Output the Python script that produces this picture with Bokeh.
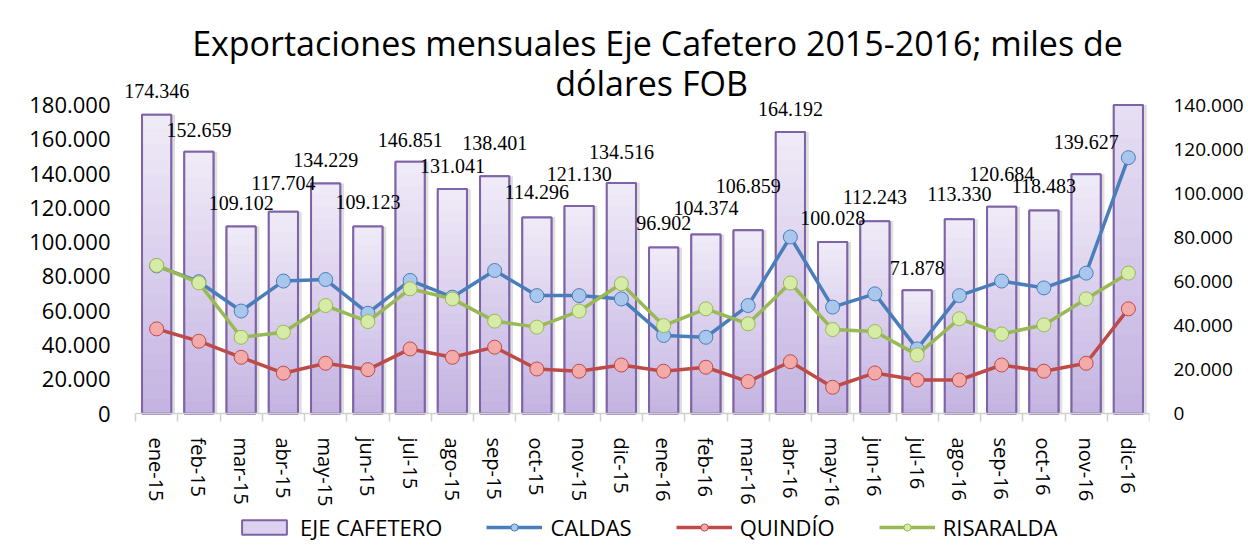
import numpy as np
from bokeh.plotting import figure
from bokeh.models import (Range1d, LinearAxis, FixedTicker, ColumnDataSource,
                          Label, Legend, LegendItem)
from bokeh.embed import file_html
from bokeh.resources import INLINE

months = ["ene-15", "feb-15", "mar-15", "abr-15", "may-15", "jun-15", "jul-15", "ago-15",
          "sep-15", "oct-15", "nov-15", "dic-15", "ene-16", "feb-16", "mar-16", "abr-16",
          "may-16", "jun-16", "jul-16", "ago-16", "sep-16", "oct-16", "nov-16", "dic-16"]
eje = [174346, 152659, 109102, 117704, 134229, 109123, 146851, 131041, 138401, 114296,
       121130, 134516, 96902, 104374, 106859, 164192, 100028, 112243, 71878, 113330,
       120684, 118483, 139627, 229000]
caldas = [67000, 59800, 46500, 60100, 60800, 45500, 60400, 52800, 64900, 53500, 53500, 52000,
          35400, 34600, 49000, 80100, 48300, 54300, 29300, 53500, 60100, 57000, 63700, 116100]
quindio = [38400, 32800, 25500, 18300, 22800, 19900, 29300, 25500, 30100, 20200, 19200, 22000,
           19200, 21000, 14500, 23500, 11900, 18400, 15200, 15200, 22000, 19200, 22800, 47500]
risaralda = [67200, 59300, 34600, 36900, 49000, 41700, 56600, 52000, 41900, 39200, 46500, 58900,
             39900, 47500, 40700, 59200, 38100, 37200, 26600, 43000, 36100, 40200, 52000, 63700]
left_ticks = list(range(0, 180001, 20000))
right_ticks = list(range(0, 140001, 20000))
title_lines = ["Exportaciones mensuales Eje Cafetero 2015-2016; miles de", "dólares FOB"]

# style: extra lift (px) of individual data labels, as placed in the original chart
label_lift = [1, -1, 1, 6, 0, 1, -1, 0, 10, 3, 9, 8, 1, 4, 21, 0, 1, 1, -1, 2, 10, 1, 9, 0]

LEFT_MAX = 180000
RIGHT_MAX = 140000

# layout (canvas pixels)
CANVAS_W, CANVAS_H = 1246, 558
FRAME_L = 122          # frame left edge (a little left of the first category)
CAT0 = 135             # left edge of the first category
CAT_PX = 42.25         # width of one category
AXIS_TOP_PX = 104.5    # where LEFT_MAX sits
AXIS_ZERO_PX = 413     # where 0 sits
TITLE_CX = [657, 651]
TITLE_CY = [42, 82]

n = len(months)
frame_w = int(round(CAT0 - FRAME_L + n * CAT_PX))
right_border = CANVAS_W - FRAME_L - frame_w
ppu = (AXIS_ZERO_PX - AXIS_TOP_PX) / LEFT_MAX
y_end = AXIS_ZERO_PX / ppu
y_start = -(CANVAS_H - AXIS_ZERO_PX) / ppu
r_scale = RIGHT_MAX / LEFT_MAX
x_start = -(CAT0 - FRAME_L) / CAT_PX

def fmt(v):
    return f"{v:,}".replace(",", ".")

def y_at(px):
    return (AXIS_ZERO_PX - px) / ppu

def x_at(px):
    return (px - CAT0) / CAT_PX

xs = np.arange(n) + 0.5

p = figure(frame_width=frame_w, frame_height=CANVAS_H, output_backend="svg",
           toolbar_location=None,
           x_range=Range1d(x_start, n), y_range=Range1d(y_start, y_end),
           min_border_left=FRAME_L, min_border_right=right_border,
           min_border_top=0, min_border_bottom=0,
           background_fill_color="white", border_fill_color="white")
p.title.visible = False
p.outline_line_color = None
p.grid.visible = False
p.extra_y_ranges = {"right": Range1d(y_start * r_scale, y_end * r_scale)}

# title
for txt, cx, cy in zip(title_lines, TITLE_CX, TITLE_CY):
    p.add_layout(Label(x=x_at(cx), y=y_at(cy), text=txt, text_align="center",
                       text_baseline="middle", text_font="Open Sans",
                       text_font_size="34px", text_color="#000000"))

# bars (the left axis ends at LEFT_MAX, taller bars are cut there)
bar_top = np.minimum(eje, LEFT_MAX)
bw = 0.69
shadow_src = ColumnDataSource(dict(x=xs + 0.09, top=bar_top))
p.vbar(x="x", top="top", width=bw, bottom=0, source=shadow_src,
       fill_color="#B8B8B8", fill_alpha=0.45, line_color=None)
base_src = ColumnDataSource(dict(x=xs, top=bar_top))
bar_base = p.vbar(x="x", top="top", width=bw, bottom=0, source=base_src,
                  fill_color="#DCD2EF", line_color="#7F63A8", line_width=2)

c_bot = np.array([0xC4, 0xB3, 0xE2])
c_top = np.array([0xF1, 0xEC, 0xF8])
N = 20
gx, gb, gt, gc = [], [], [], []
for i, v in enumerate(eje):
    for k in range(N):
        f = (k + 0.5) / N
        c = (c_bot + (c_top - c_bot) * f).astype(int)
        b0, b1 = v * k / N, min(v * (k + 1) / N, LEFT_MAX)
        if b0 >= LEFT_MAX:
            continue
        gx.append(xs[i]); gb.append(b0); gt.append(b1)
        gc.append("#%02x%02x%02x" % tuple(c))
grad_src = ColumnDataSource(dict(x=gx, bottom=gb, top=gt, color=gc))
p.vbar(x="x", top="top", bottom="bottom", width=bw, source=grad_src,
       fill_color="color", line_color="color", line_width=0.5)
p.vbar(x="x", top="top", width=bw, bottom=0, source=base_src,
       fill_alpha=0, line_color="#7F63A8", line_width=2)

# data labels (only those inside the axis range are visible in the chart)
for i, v in enumerate(eje):
    if v <= LEFT_MAX:
        p.add_layout(Label(x=xs[i], y=v, text=fmt(v), text_align="center",
                           text_baseline="bottom", y_offset=16 + label_lift[i],
                           text_font="Liberation Serif", text_font_size="20px",
                           text_color="#000000"))

# lines
series = [("CALDAS", caldas, "#4A7EBB", "#A9C6EC"),
          ("QUINDÍO", quindio, "#BE4B48", "#F3AAA8"),
          ("RISARALDA", risaralda, "#98B954", "#D6ECA6")]
items = [LegendItem(label="EJE CAFETERO", renderers=[bar_base])]
for name, vals, lc, fc in series:
    src = ColumnDataSource(dict(x=xs, y=vals))
    lr = p.line("x", "y", source=src, y_range_name="right", line_color=lc, line_width=3.5)
    sr = p.scatter("x", "y", source=src, y_range_name="right", marker="circle", size=14,
                   fill_color=fc, line_color=lc, line_width=1)
    items.append(LegendItem(label=name, renderers=[lr, sr]))

# x axis, pinned at value 0
xa = p.xaxis[0]
xa.fixed_location = 0
xa.bounds = (0, n)
xa.ticker = FixedTicker(ticks=list(xs), minor_ticks=list(range(n + 1)))
xa.major_label_overrides = {float(x): m for x, m in zip(xs, months)}
xa.major_label_orientation = "vertical"
xa.major_tick_line_color = None
xa.major_tick_out = 0
xa.major_tick_in = 0
xa.minor_tick_line_color = "#D0D0D0"
xa.minor_tick_line_width = 1.5
xa.minor_tick_in = 0
xa.minor_tick_out = 8
xa.axis_line_color = "#D0D0D0"
xa.axis_line_width = 1.5
xa.major_label_text_font = "Open Sans"
xa.major_label_text_font_size = "20px"
xa.major_label_text_color = "#000000"
xa.major_label_standoff = 16

# left axis
ya = p.yaxis[0]
ya.ticker = FixedTicker(ticks=left_ticks)
ya.major_label_overrides = {t: fmt(t) for t in left_ticks}
ya.axis_line_color = None
ya.major_tick_line_color = None
ya.major_tick_out = 0
ya.major_tick_in = 0
ya.minor_tick_line_color = None
ya.minor_tick_out = 0
ya.minor_tick_in = 0
ya.major_label_text_font = "Open Sans"
ya.major_label_text_font_size = "22px"
ya.major_label_text_color = "#000000"
ya.major_label_standoff = 12

# right axis
ra = LinearAxis(y_range_name="right", ticker=FixedTicker(ticks=right_ticks))
ra.major_label_overrides = {t: fmt(t) for t in right_ticks}
ra.axis_line_color = None
ra.major_tick_line_color = None
ra.major_tick_out = 0
ra.major_tick_in = 0
ra.minor_tick_line_color = None
ra.minor_tick_out = 0
ra.minor_tick_in = 0
ra.major_label_text_font = "Open Sans"
ra.major_label_text_font_size = "19px"
ra.major_label_text_color = "#000000"
ra.major_label_standoff = 24
p.add_layout(ra, "right")

legend = Legend(items=items, orientation="horizontal", location=(114, 16),
                border_line_color=None, background_fill_alpha=0,
                label_text_font="Open Sans", label_text_font_size="22px",
                label_text_color="#000000", glyph_width=56, glyph_height=18,
                spacing=44, label_standoff=8, padding=6, margin=0)
p.add_layout(legend, "center")

open("out.html", "w").write(file_html(p, INLINE))
